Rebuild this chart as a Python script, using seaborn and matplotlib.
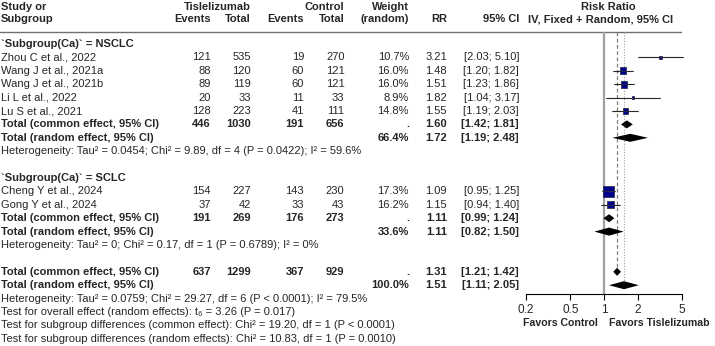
import numpy as np
import pandas as pd
import seaborn as sns
import matplotlib
matplotlib.use('Agg')
import matplotlib.pyplot as plt
import matplotlib.ticker as ticker

# --- values ---
nsclc_names = ['Zhou C et al., 2022', 'Wang J et al., 2021a', 'Wang J et al., 2021b',
               'Li L et al., 2022', 'Lu S et al., 2021']
nsclc_ev_t = [121, 88, 89, 20, 128]
nsclc_n_t = [535, 120, 119, 33, 223]
nsclc_ev_c = [19, 60, 60, 11, 41]
nsclc_n_c = [270, 121, 121, 33, 111]
nsclc_w = ['10.7%', '16.0%', '16.0%', '8.9%', '14.8%']
nsclc_rr = [3.21, 1.48, 1.51, 1.82, 1.55]
nsclc_lo = [2.03, 1.20, 1.23, 1.04, 1.19]
nsclc_hi = [5.10, 1.82, 1.86, 3.17, 2.03]

sclc_names = ['Cheng Y et al., 2024', 'Gong Y et al., 2024']
sclc_ev_t = [154, 37]
sclc_n_t = [227, 42]
sclc_ev_c = [143, 33]
sclc_n_c = [230, 43]
sclc_w = ['17.3%', '16.2%']
sclc_rr = [1.09, 1.15]
sclc_lo = [0.95, 0.94]
sclc_hi = [1.25, 1.40]

# pooled common: events T, total T, events C, total C, RR, lo, hi
# pooled random: weight, RR, lo, hi
nsclc_common = [446, 1030, 191, 656, 1.60, 1.42, 1.81]
nsclc_random = ['66.4%', 1.72, 1.19, 2.48]
sclc_common = [191, 269, 176, 273, 1.11, 0.99, 1.24]
sclc_random = ['33.6%', 1.11, 0.82, 1.50]
all_common = [637, 1299, 367, 929, 1.31, 1.21, 1.42]
all_random = ['100.0%', 1.51, 1.11, 2.05]

het_nsclc = 'Heterogeneity: Tau² = 0.0454; Chi² = 9.89, df = 4 (P = 0.0422); I² = 59.6%'
het_sclc = 'Heterogeneity: Tau² = 0; Chi² = 0.17, df = 1 (P = 0.6789); I² = 0%'
het_all = 'Heterogeneity: Tau² = 0.0759; Chi² = 29.27, df = 6 (P < 0.0001); I² = 79.5%'
tests = ['Test for overall effect (random effects): t₆ = 3.26 (P = 0.017)',
         'Test for subgroup differences (common effect): Chi² = 19.20, df = 1 (P < 0.0001)',
         'Test for subgroup differences (random effects): Chi² = 10.83, df = 1 (P = 0.0010)']

xticks = [0.2, 0.5, 1, 2, 5]
xtick_labels = ['0.2', '0.5', '1', '2', '5']

# --- layout: rows are 13.4 px apart, first subgroup row at 44 px ---
W, H = 715, 346
ROW0, STEP = 44, 13.4
def px2row(p):
    return 1 + (p - ROW0) / STEP
ylim = (px2row(H), px2row(0))

# log-scale mapping of the forest panel: RR=1 at x=604 px, 111.6 px per decade
X1, DEC = 604, 111.6
def px2rr(p):
    return 10 ** ((p - X1) / DEC)

sns.set_theme(style='white')
plt.rcParams['font.family'] = ['Liberation Sans', 'DejaVu Sans']
plt.rcParams['font.size'] = 8

fig = plt.figure(figsize=(W / 100, H / 100), dpi=100)
ax = fig.add_axes([0, 0, 1, 1])
ax.set_xlim(0, W)
ax.set_ylim(*ylim)
ax.axis('off')

# column x (px), right aligned
cols = {'ev_t': 211, 'n_t': 251, 'ev_c': 304, 'n_c': 344.5,
        'w': 409, 'rr': 447, 'ci': 519}

def txt(x, r, s, bold=False, ha='right'):
    ax.text(x, r, s, ha=ha, va='center', fontsize=8,
            fontweight='bold' if bold else 'normal')

def ci_str(lo, hi):
    return f'[{lo:.2f}; {hi:.2f}]'

# header
hr1, hr2 = px2row(6.5), px2row(19.5)
txt(1, hr1, 'Study or', True, 'left')
txt(1, hr2, 'Subgroup', True, 'left')
txt(cols['n_t'], hr1, 'Tislelizumab', True)
txt(cols['n_c'], hr1, 'Control', True)
for k in ('ev_t', 'ev_c'):
    txt(cols[k], hr2, 'Events', True)
for k in ('n_t', 'n_c'):
    txt(cols[k], hr2, 'Total', True)
txt(cols['w'], hr1, 'Weight', True)
txt(cols['w'], hr2, '(random)', True)
txt(cols['rr'], hr2, 'RR', True)
txt(cols['ci'], hr2, '95% CI', True)
txt(608, hr1, 'Risk Ratio', True, 'center')
txt(601, hr2, 'IV, Fixed + Random, 95% CI', True, 'center')
ax.plot([0, 681], [px2row(31.5)] * 2, color='#707070', lw=1)

# --- forest panel ---
fx0, fx1 = 500, 715
axf = fig.add_axes([fx0 / W, 0, (fx1 - fx0) / W, 1])
axf.set_xscale('log')
axf.set_xlim(px2rr(fx0), px2rr(fx1))
axf.set_ylim(*ylim)
axf.patch.set_visible(False)

study_rows = []

def block(start, names, ev_t, n_t, ev_c, n_c, w, rr, lo, hi):
    rows = []
    for i, name in enumerate(names):
        r = start + i
        txt(1, r, name, ha='left')
        txt(cols['ev_t'], r, str(ev_t[i]))
        txt(cols['n_t'], r, str(n_t[i]))
        txt(cols['ev_c'], r, str(ev_c[i]))
        txt(cols['n_c'], r, str(n_c[i]))
        txt(cols['w'], r, w[i])
        txt(cols['rr'], r, f'{rr[i]:.2f}')
        txt(cols['ci'], r, ci_str(lo[i], hi[i]))
        # inverse-variance (common effect) weight sets square size
        var = 1 / ev_t[i] - 1 / n_t[i] + 1 / ev_c[i] - 1 / n_c[i]
        rows.append({'row': r, 'rr': rr[i], 'lo': lo[i], 'hi': hi[i], 'w': 1 / var})
    return rows

def pooled(r_c, common, random):
    txt(1, r_c, 'Total (common effect, 95% CI)', True, 'left')
    for k, v in zip(('ev_t', 'n_t', 'ev_c', 'n_c'), common[:4]):
        txt(cols[k], r_c, str(v), True)
    txt(cols['w'], r_c, '.', True)
    txt(cols['rr'], r_c, f'{common[4]:.2f}', True)
    txt(cols['ci'], r_c, ci_str(common[5], common[6]), True)
    r_r = r_c + 1
    txt(1, r_r, 'Total (random effect, 95% CI)', True, 'left')
    txt(cols['w'], r_r, random[0], True)
    txt(cols['rr'], r_r, f'{random[1]:.2f}', True)
    txt(cols['ci'], r_r, ci_str(random[2], random[3]), True)
    for r, est, lo, hi in ((r_c, common[4], common[5], common[6]),
                           (r_r, random[1], random[2], random[3])):
        h = 0.3
        axf.fill([lo, est, hi, est], [r, r - h, r, r + h], color='black', lw=0, zorder=4)

txt(1, 1, '`Subgroup(Ca)` = NSCLC', True, 'left')
study_rows += block(2, nsclc_names, nsclc_ev_t, nsclc_n_t, nsclc_ev_c, nsclc_n_c,
                    nsclc_w, nsclc_rr, nsclc_lo, nsclc_hi)
pooled(7, nsclc_common, nsclc_random)
txt(1, 9, het_nsclc, ha='left')

txt(1, 11, '`Subgroup(Ca)` = SCLC', True, 'left')
study_rows += block(12, sclc_names, sclc_ev_t, sclc_n_t, sclc_ev_c, sclc_n_c,
                    sclc_w, sclc_rr, sclc_lo, sclc_hi)
pooled(14, sclc_common, sclc_random)
txt(1, 16, het_sclc, ha='left')

pooled(18, all_common, all_random)
txt(1, 20, het_all, ha='left')
for i, t in enumerate(tests):
    txt(1, 21 + i, t, ha='left')

df = pd.DataFrame(study_rows)

# reference lines
top = px2row(32)
axis_row = px2row(294)
axf.vlines(1, top, axis_row, color='#a0a0a0', lw=1.6, zorder=1)
axf.vlines(all_common[4], top, 18, color='#808080', lw=0.9, ls=(0, (3, 2)), zorder=1)
axf.vlines(all_random[1], top, 19, color='#a0a0a0', lw=0.8, ls=(0, (1, 1.5)), zorder=1)

# study CIs and weighted squares
axf.hlines(df['row'], df['lo'], df['hi'], color='black', lw=0.8, zorder=2)
side_max = 10.7 * 0.72  # points
kw = side_max ** 2 / df['w'].max()
sns.scatterplot(data=df, x='rr', y='row', size='w',
                sizes=(kw * df['w'].min(), kw * df['w'].max()),
                marker='s', color='#00008b', edgecolor='#202040', linewidth=0.5,
                legend=False, ax=axf, zorder=3)
axf.hlines(df['row'], df['lo'], df['hi'], color='#303030', lw=0.6, zorder=3.5)
axf.set_ylim(*ylim)

# x axis
for s in ('top', 'right', 'left'):
    axf.spines[s].set_visible(False)
axf.spines['bottom'].set_position(('data', axis_row))
axf.spines['bottom'].set_bounds(0.2, 5)
axf.spines['bottom'].set_color('black')
axf.spines['bottom'].set_linewidth(0.8)
axf.xaxis.set_major_locator(ticker.FixedLocator(xticks))
axf.xaxis.set_major_formatter(ticker.FixedFormatter(xtick_labels))
axf.xaxis.set_minor_locator(ticker.NullLocator())
axf.tick_params(axis='x', bottom=True, direction='out', length=4.5, width=0.8,
                pad=3, labelsize=8.5, color='black')
axf.set_yticks([])
axf.set_xlabel('')
axf.set_ylabel('')

fav_row = px2row(323)
axf.text(px2rr(598), fav_row, 'Favors Control', ha='right', va='center',
         fontsize=7.6, fontweight='bold')
axf.text(px2rr(609), fav_row, 'Favors Tislelizumab', ha='left', va='center',
         fontsize=7.6, fontweight='bold')

fig.savefig('out.png', dpi=100)
